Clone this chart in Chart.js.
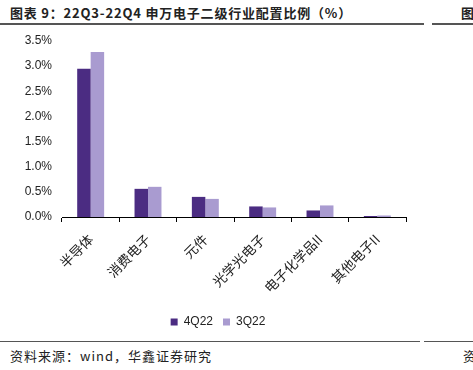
<!DOCTYPE html>
<html><head><meta charset="utf-8">
<script src="https://cdn.jsdelivr.net/npm/chart.js@4/dist/chart.umd.min.js"></script>
<style>
html,body{margin:0;padding:0;background:#fff;}
body{width:473px;height:370px;position:relative;overflow:hidden;font-family:"Noto Sans CJK SC",sans-serif;}
#title{position:absolute;left:10px;top:3px;font-size:13px;letter-spacing:0.8px;font-weight:bold;color:#222;white-space:nowrap;}
#title2{position:absolute;left:461px;top:3px;font-size:13px;font-weight:bold;color:#222;}
.ln{position:absolute;height:2px;background:#555;}
#foot{position:absolute;left:10px;top:346px;font-size:13px;letter-spacing:1px;color:#222;white-space:nowrap;}
#foot2{position:absolute;left:463px;top:346px;font-size:13px;color:#222;}
#wrap{position:absolute;left:0;top:0;width:473px;height:340px;}
</style></head>
<body>
<div id="title">图表 9：22Q3-22Q4 申万电子二级行业配置比例（%）</div>
<div id="title2">图</div>
<div class="ln" style="left:0;top:23px;width:424px;"></div>
<div class="ln" style="left:432px;top:23px;width:41px;"></div>
<div class="ln" style="left:0;top:341px;width:420px;height:1px;"></div>
<div class="ln" style="left:424px;top:341px;width:49px;height:1px;"></div>
<div id="foot">资料来源：wind，华鑫证券研究</div>
<div id="foot2">资</div>
<div id="wrap"><canvas id="c" width="473" height="340"></canvas></div>
<script>
const categories = ["半导体","消费电子","元件","光学光电子","电子化学品II","其他电子II"];
const series4Q22 = [2.95, 0.56, 0.40, 0.21, 0.13, 0.02];
const series3Q22 = [3.28, 0.60, 0.36, 0.19, 0.23, 0.03];
const seriesNames = ["4Q22","3Q22"];
const yTicks = [0,0.5,1.0,1.5,2.0,2.5,3.0,3.5];

const legendShift = {
  id: 'legendShift',
  afterLayout(chart) {
    const lg = chart.legend;
    if (lg) { lg.left += 15; lg.right += 15; }
  }
};

new Chart(document.getElementById('c'), {
  type: 'bar',
  data: {
    labels: categories,
    datasets: [
      {label: seriesNames[0], data: series4Q22, backgroundColor: '#4B2C82', barPercentage: 1, categoryPercentage: 0.47},
      {label: seriesNames[1], data: series3Q22, backgroundColor: '#A99BD0', barPercentage: 1, categoryPercentage: 0.47}
    ]
  },
  plugins: [legendShift],
  options: {
    responsive: false,
    animation: false,
    devicePixelRatio: 1,
    layout: {padding: {left: 0, right: 67, top: 41, bottom: 2}},
    plugins: {
      legend: {
        position: 'bottom',
        labels: {boxWidth: 7, boxHeight: 7, font: {family: 'Liberation Sans', size: 12}, color: '#222', padding: 10}
      },
      tooltip: {enabled: false}
    },
    scales: {
      x: {
        grid: {display: true, drawOnChartArea: false, drawTicks: true, tickLength: 5, color: '#000', offset: true},
        border: {display: true, color: '#000', width: 1},
        ticks: {maxRotation: 45, minRotation: 45, autoSkip: false, font: {family: 'Noto Sans CJK SC', size: 13.5}, color: '#222', padding: 9},
        afterFit: s => { s.height = 89; }
      },
      y: {
        min: 0, max: 3.5,
        afterBuildTicks: s => { s.ticks = yTicks.map(v => ({value: v})); },
        grid: {display: false, drawTicks: false},
        border: {display: false},
        ticks: {padding: 10, font: {family: 'Liberation Sans', size: 12}, color: '#222', callback: v => v.toFixed(1) + '%'},
        afterFit: s => { s.width = 62; }
      }
    }
  }
});
</script>
</body></html>
